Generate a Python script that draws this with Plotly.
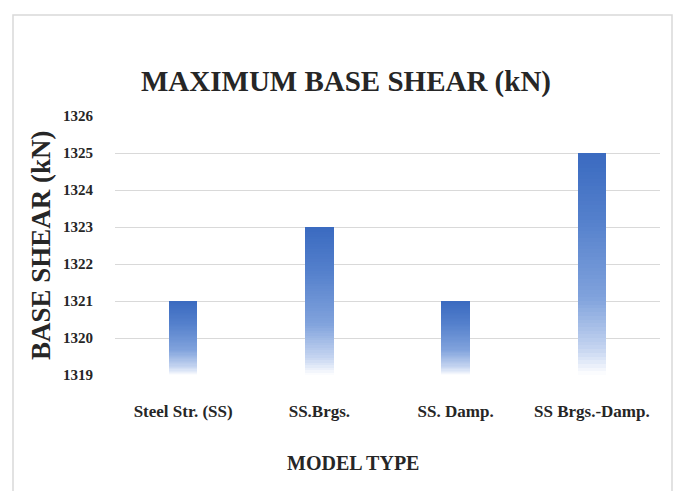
import plotly.graph_objects as go

categories = ["Steel Str. (SS)", "SS.Brgs.", "SS. Damp.", "SS Brgs.-Damp."]
base_shear = [1321, 1323, 1321, 1325]
y_ticks = [1319, 1320, 1321, 1322, 1323, 1324, 1325, 1326]

Y_MIN, Y_MAX = 1319, 1326
FONT = "Liberation Serif"

# page offset compensation (browser body margin)
OFF = 8
L, R, T, B = 115 - OFF, 683 - 660 + OFF, 116 - OFF, 491 - 375 + OFF
PW, PH = 545, 259

# gradient stops (t=0 bottom -> t=1 top)
stops = [(0.0, (255, 255, 255)), (0.12, (196, 212, 240)), (0.35, (128, 162, 220)),
         (0.7, (84, 128, 204)), (1.0, (58, 106, 192))]


def grad(t):
    for (t0, c0), (t1, c1) in zip(stops[:-1], stops[1:]):
        if t0 <= t <= t1:
            f = (t - t0) / (t1 - t0)
            return "rgb(%d,%d,%d)" % tuple(round(a + (b - a) * f) for a, b in zip(c0, c1))
    return "rgb(%d,%d,%d)" % stops[-1][1]


N = 60
fig = go.Figure()
for k in range(N):
    seg = [(v - Y_MIN) / N for v in base_shear]
    bases = [Y_MIN + k * s for s in seg]
    fig.add_trace(go.Bar(
        x=categories, y=seg, base=bases, width=0.21,
        marker=dict(color=grad((k + 0.5) / N), line=dict(width=0)),
        showlegend=False, hoverinfo="skip"))


def px_x(p):
    return (p - 115) / PW


def px_y(p):
    return (375 - p) / PH


fig.update_layout(
    width=683, height=491,
    margin=dict(l=L, r=R, t=T, b=B),
    paper_bgcolor="white", plot_bgcolor="white",
    barmode="overlay", bargap=0,
    font=dict(family=FONT, color="#262626"),
    title=dict(text="<b>MAXIMUM BASE SHEAR (kN)</b>", x=(346 - OFF) / 683, xref="container",
               xanchor="center", y=1 - (81 - OFF) / 491, yref="container", yanchor="middle",
               font=dict(family=FONT, size=29, color="#262626")),
    xaxis=dict(showgrid=False, showline=False, zeroline=False,
               tickfont=dict(family=FONT, size=17, weight="bold", color="#262626"),
               ticklabelstandoff=24),
    yaxis=dict(range=[Y_MIN, Y_MAX], tickvals=y_ticks, showgrid=True,
               gridcolor="#d9d9d9", gridwidth=1.3, zeroline=False, showline=False,
               tickfont=dict(family=FONT, size=15, weight="bold", color="#262626"),
               ticklabelstandoff=21),
    annotations=[
        dict(text="<b>MODEL TYPE</b>", x=px_x(353), y=px_y(463),
             xref="paper", yref="paper", showarrow=False, xanchor="center",
             yanchor="middle", font=dict(family=FONT, size=20, color="#262626")),
        dict(text="<b>BASE SHEAR (kN)</b>", x=px_x(41), y=px_y(245),
             xref="paper", yref="paper", showarrow=False, textangle=-90,
             xanchor="center", yanchor="middle",
             font=dict(family=FONT, size=27, color="#262626")),
    ],
    shapes=[dict(type="rect", xref="paper", yref="paper",
                 x0=px_x(13), x1=px_x(672), y0=px_y(520), y1=px_y(15),
                 line=dict(color="#d9d9d9", width=1.5), layer="below")],
)

fig.write_html("out.html")
